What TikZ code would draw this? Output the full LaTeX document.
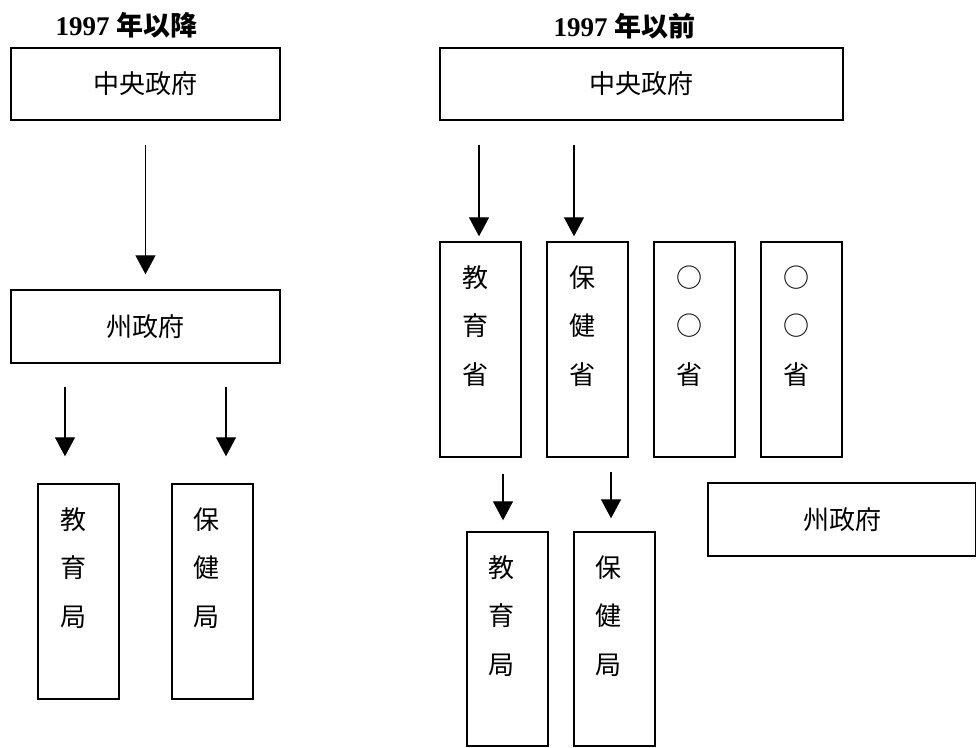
\documentclass[tikz,border=0pt]{standalone}
\usepackage{fontspec}
\setmainfont{Liberation Serif}
\newfontfamily\cjk{Noto Sans CJK JP}
\usetikzlibrary{arrows.meta,calc}
\tikzset{
  box/.style={draw, line width=1.4pt, inner sep=0pt, font=\cjk\fontsize{26}{30}\selectfont},
  vbox/.style={box, minimum width=81pt, minimum height=215pt},
  hbox/.style={box, minimum height=72pt},
  vtext/.style={align=center, inner sep=0pt, font=\cjk\fontsize{26}{48.5}\selectfont},
  arr/.style={line width=1.3pt, -{Triangle[width=20pt,length=19pt]}},
  ttl/.style={inner sep=0pt, font=\bfseries\fontsize{27}{30}\selectfont}
}
\begin{document}
\begin{tikzpicture}[x=1pt,y=-1pt]
\useasboundingbox (0,0) rectangle (976,747);
% ---------- left: after 1997
\node[ttl] (t1) at (126.5,25) {1997 {\cjk\bfseries 年以降}};
\node[hbox, minimum width=269pt] (lc) at (145.5,84) {中央政府};
\node[hbox, minimum width=269pt, minimum height=73pt] (ls) at (145.5,326.5) {州政府};
\node[vbox] (lb1) at (78.5,591.5) {};
\node[vbox] (lb2) at (212.5,591.5) {};
\node[vtext] (lb1t) at (73,568) {教\\育\\局};
\node[vtext] (lb2t) at (206,568) {保\\健\\局};
\draw[arr] ($(lc.south)+(0,24)$) -- ($(ls.north)+(0,-15)$);
\draw[arr] ($(lb1.north |- ls.south)+(-13.5,23)$) -- ($(lb1.north)+(-13.5,-27)$);
\draw[arr] ($(lb2.north |- ls.south)+(13.5,23)$) -- ($(lb2.north)+(13.5,-27)$);
% ---------- right: before 1997
\node[ttl] (t2) at (624.5,26) {1997 {\cjk\bfseries 年以前}};
\node[hbox, minimum width=403pt] (rc) at (641.5,84) {中央政府};
\node[vbox] (m1) at (480.5,349.5) {};
\node[vbox] (m2) at (587.5,349.5) {};
\node[vbox] (m3) at (694.5,349.5) {};
\node[vbox] (m4) at (801.5,349.5) {};
\node[vtext] (m1t) at (475,326) {教\\育\\省};
\node[vtext] (m2t) at (582,326) {保\\健\\省};
\node[vtext] (m3t) at (689,326) {○\\○\\省};
\node[vtext] (m4t) at (796,326) {○\\○\\省};
\node[vbox, minimum height=214pt] (rb1) at (507.5,639) {};
\node[vbox, minimum height=214pt] (rb2) at (614.5,639) {};
\node[vtext] (rb1t) at (501,616) {教\\育\\局};
\node[vtext] (rb2t) at (608,616) {保\\健\\局};
\node[hbox, minimum width=268pt, minimum height=73pt] (rs) at (842,519.5) {州政府};
\draw[arr] ($(m1.north |- rc.south)+(-1.5,24)$) -- ($(m1.north)+(-1.5,-5)$);
\draw[arr] ($(m2.north |- rc.south)+(-13.5,24)$) -- ($(m2.north)+(-13.5,-5)$);
\draw[arr] ($(rb1.north |- m1.south)+(-4.5,16)$) -- ($(rb1.north)+(-4.5,-11)$);
\draw[arr] ($(rb2.north |- m2.south)+(-3.5,14)$) -- ($(rb2.north)+(-3.5,-13)$);
\end{tikzpicture}
\end{document}
